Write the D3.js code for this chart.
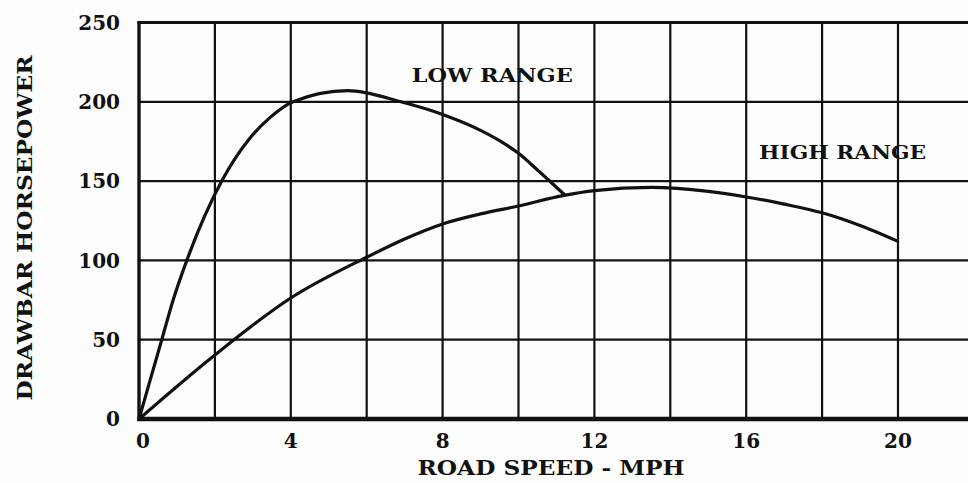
<!DOCTYPE html>
<html><head><meta charset="utf-8">
<script src="https://cdn.jsdelivr.net/npm/d3@7"></script>
<style>
html,body{margin:0;padding:0;background:#fdfdfd;overflow:hidden}
text{font-family:"DejaVu Serif",serif;font-weight:bold;fill:#111}
</style></head>
<body><svg id="c" width="968" height="483"></svg>
<script>
// Data
const xTicks = [0, 4, 8, 12, 16, 20];
const yTicks = [0, 50, 100, 150, 200, 250];
const xGrid = [2, 4, 6, 8, 10, 12, 14, 16, 18, 20, 22];
const yGrid = [50, 100, 150, 200];
const lowSpeed = [0, 0.6, 0.9, 1.26, 2.18, 2.92, 3.45, 4.06, 5.5, 6.9, 8.0, 9.0, 9.5, 10.0, 10.5, 11.23];
const lowHp    = [0, 50, 75, 100, 150, 177, 190, 200, 207, 200, 192, 182, 175.5, 167.5, 157, 141];
const highSpeed = [0, 2, 4, 6, 7, 8, 9, 10, 11.2, 12, 13.5, 15, 16, 17, 18, 19, 20];
const highHp    = [0, 40.4, 76.3, 102, 113.5, 123, 129.3, 134.3, 141, 144, 146, 143.5, 140, 135.5, 130, 122, 112];
const labels = [{t:"LOW RANGE", x:9.31, y:212.5, w:161}, {t:"HIGH RANGE", x:18.54, y:164, w:167}];

const svg = d3.select("#c");
const x = d3.scaleLinear().domain([0, 20]).range([139, 898]);
const y = d3.scaleLinear().domain([0, 250]).range([419, 22.5]);
const xMax = 22.5;

// grid
svg.append("g").selectAll("line").data(xGrid).join("line")
  .attr("x1", d => x(d)).attr("x2", d => x(d))
  .attr("y1", y(250)).attr("y2", y(0))
  .attr("stroke", "#111").attr("stroke-width", 2.2);
svg.append("g").selectAll("line").data(yGrid).join("line")
  .attr("x1", x(0)).attr("x2", x(xMax))
  .attr("y1", d => y(d)).attr("y2", d => y(d))
  .attr("stroke", "#111").attr("stroke-width", 2.2);
// frame
svg.append("line").attr("x1", x(0) - 1.5).attr("x2", x(xMax)).attr("y1", y(250)).attr("y2", y(250))
  .attr("stroke", "#111").attr("stroke-width", 3.2);
svg.append("line").attr("x1", x(0)).attr("x2", x(0)).attr("y1", y(250) - 1.5).attr("y2", y(0) + 2)
  .attr("stroke", "#111").attr("stroke-width", 3.4);
svg.append("line").attr("x1", x(0) - 1.5).attr("x2", x(xMax)).attr("y1", y(0)).attr("y2", y(0))
  .attr("stroke", "#111").attr("stroke-width", 4.5);

// curves
const line = d3.line().x(d => x(d[0])).y(d => y(d[1])).curve(d3.curveMonotoneX);
svg.append("path").attr("d", line(d3.zip(lowSpeed, lowHp)))
  .attr("fill", "none").attr("stroke", "#111").attr("stroke-width", 3.2);
svg.append("path").attr("d", line(d3.zip(highSpeed, highHp)))
  .attr("fill", "none").attr("stroke", "#111").attr("stroke-width", 3.2);

// tick labels
svg.append("g").selectAll("text").data(yTicks).join("text")
  .attr("x", 120).attr("y", d => y(d)).attr("dy", "0.36em")
  .attr("text-anchor", "end").attr("font-size", 20).text(d => d);
svg.append("g").selectAll("text").data(xTicks).join("text")
  .attr("x", d => x(d) + (d === 0 ? 4 : 0)).attr("y", 448)
  .attr("text-anchor", "middle").attr("font-size", 20).text(d => d);

// axis titles
svg.append("text").attr("x", 551).attr("y", 475).attr("text-anchor", "middle")
  .attr("font-size", 20).attr("textLength", 267).attr("lengthAdjust", "spacingAndGlyphs")
  .text("ROAD SPEED - MPH");
svg.append("text").attr("transform", "translate(32,228) rotate(-90)").attr("text-anchor", "middle")
  .attr("font-size", 20).attr("textLength", 345).attr("lengthAdjust", "spacingAndGlyphs")
  .text("DRAWBAR HORSEPOWER");

// curve labels
svg.append("g").selectAll("text").data(labels).join("text")
  .attr("x", d => x(d.x)).attr("y", d => y(d.y)).attr("text-anchor", "middle")
  .attr("font-size", 19).attr("textLength", d => d.w).attr("lengthAdjust", "spacingAndGlyphs")
  .text(d => d.t);
</script></body></html>
